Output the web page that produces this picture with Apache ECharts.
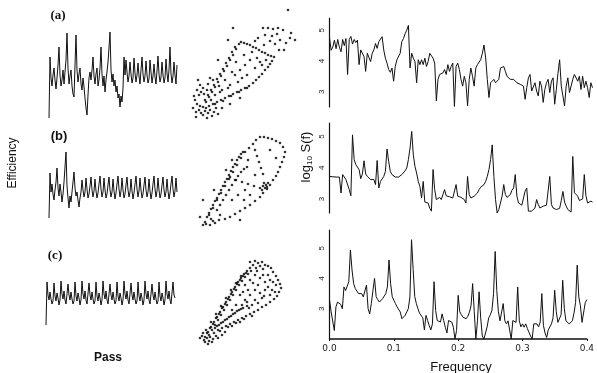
<!DOCTYPE html>
<html><head><meta charset="utf-8">
<script src="https://cdn.jsdelivr.net/npm/echarts@6/dist/echarts.min.js"></script>
<style>html,body{margin:0;padding:0;background:#fff}#c{width:597px;height:373px}</style>
</head><body><div id="c"></div>
<script>
// ---- Efficiency time series (arbitrary units), one value per pass ----
const effA = [2,63,42,34,45,52,40,31,42,55,73,45,34,40,50,36,38,60,87,52,36,44,50,34,26,23,55,85,50,38,46,52,36,30,42,33,22,12,5,25,42,48,40,50,63,44,36,46,52,34,40,52,73,46,34,44,28,40,48,58,72,88,50,38,46,34,40,28,34,22,26,13,24,18,32,63,45,60,48,38,44,58,46,37,42,62,47,38,45,57,44,36,50,63,46,38,44,59,45,37,41,60,48,37,44,56,43,36,49,64,46,38,43,58,45,37,42,61,47,38,50,73,46,37,44,58,45,36,55];
const effB = [4,49,30,38,28,22,32,40,54,34,26,38,30,20,28,40,55,70,36,24,14,26,20,30,40,50,34,26,30,22,15,24,30,42,32,25,30,44,33,24,28,36,45,32,25,31,43,31,24,29,38,46,33,25,30,44,32,24,28,37,45,32,25,30,43,31,23,29,38,46,33,25,31,44,32,24,28,37,45,32,25,30,43,31,23,29,38,46,33,25,31,44,32,24,28,37,45,32,25,30,43,31,23,29,38,46,33,25,31,44,32,24,28,37,45,32,25,30,43,31,23,29,38,46,33,25,31,44,30];
const effC = [3,46,33,28,36,29,24,27,45,32,27,35,30,23,28,47,34,29,37,28,24,26,44,33,28,36,29,24,27,46,32,27,35,30,23,28,47,34,29,37,28,24,26,45,33,28,36,29,24,27,46,32,27,35,30,23,28,47,34,29,37,28,24,26,44,33,28,36,29,24,27,46,32,27,35,30,23,28,47,34,29,37,28,24,26,45,33,28,36,29,24,27,46,32,27,35,30,23,28,47,34,29,37,28,24,26,44,33,28,36,29,24,27,46,32,27,35,30,23,28,47,34,29,37,28,24,26,46,33,30];

// ---- Return maps (E_n, E_n+1), arbitrary units ----
const mapA = [[18,13],[21,18],[24,23],[27,28],[30,33],[33,38],[36,44],[39,49],[42,54],[45,60],[48,65],[51,71],[54,76],[56,78],[20,20],[23,25],[26,30],[29,35],[32,41],[35,46],[38,51],[41,57],[44,62],[47,68],[50,73],[59,77],[62,76],[65,75],[68,73],[71,72],[74,70],[77,68],[80,67],[83,65],[86,64],[89,63],[87,59],[85,56],[83,53],[80,50],[77,46],[74,43],[71,40],[68,37],[64,34],[60,32],[56,30],[52,28],[48,26],[44,24],[40,22],[36,20],[32,18],[28,16],[24,14],[62,32],[54,28],[46,24],[38,19],[30,16],[10,20],[12,16],[8,12],[14,10],[16,7],[11,8],[18,5],[20,9],[23,7],[25,10],[27,4],[14,25],[16,28],[12,30],[19,26],[22,30],[9,24],[15,14],[21,12],[29,8],[31,12],[33,6],[26,20],[18,32],[15,35],[23,36],[30,25],[35,28],[28,40],[25,42],[34,34],[40,40],[45,35],[50,45],[55,50],[60,55],[65,60],[70,52],[75,58],[62,45],[53,38],[47,48],[43,32],[59,65],[67,68],[77,55],[81,60],[72,62],[57,42],[51,58],[37,30],[78,92],[83,92],[88,91],[93,92],[98,90],[105,82],[110,80],[101,77],[95,80],[90,76],[85,79],[80,85],[87,84],[73,82],[70,79],[79,75],[94,70],[99,70],[106,87],[92,86],[48,92],[103,110],[43,80],[33,60],[13,40],[37,12],[45,16],[55,22],[11,3],[22,2]];
const mapB = [[20,18],[24,25],[28,32],[32,40],[36,47],[40,54],[44,61],[48,68],[52,75],[56,82],[60,88],[64,92],[68,96],[71,100],[75,103],[79,103],[83,102],[87,101],[91,99],[95,97],[98,93],[100,88],[99,83],[97,78],[95,73],[93,68],[91,64],[88,60],[85,55],[82,51],[78,47],[75,43],[70,39],[65,35],[60,32],[55,29],[50,26],[45,23],[40,21],[34,20],[28,19],[22,23],[24,27],[26,31],[28,35],[30,39],[32,42],[34,46],[36,50],[38,54],[40,58],[42,61],[44,65],[46,69],[48,73],[50,76],[52,80],[54,83],[56,86],[58,88],[32,30],[35,35],[38,40],[41,45],[44,50],[47,55],[50,60],[53,64],[56,68],[59,71],[62,73],[70,90],[72,84],[74,78],[76,72],[78,66],[45,63],[51,60],[57,58],[63,56],[69,54],[75,52],[79,57],[81,55],[80,52],[82,53],[78,54],[83,57],[77,50],[18,40],[15,23],[55,20],[25,15],[21,16],[30,17],[18,15],[26,21],[35,25],[65,45],[60,50],[70,65],[53,45],[47,40],[63,80],[85,90],[91,82],[47,80],[41,70],[29,50],[59,40]];
const mapC = [[20,28],[23,33],[26,38],[29,43],[32,48],[35,53],[38,58],[41,63],[44,68],[47,73],[50,78],[53,83],[56,87],[59,91],[62,94],[65,97],[68,100],[24,30],[27,35],[30,40],[33,45],[36,50],[39,55],[42,60],[45,65],[48,70],[51,75],[54,80],[57,84],[60,88],[63,91],[66,94],[22,32],[25,37],[28,41],[31,47],[34,51],[37,57],[40,61],[43,66],[46,71],[49,76],[52,81],[55,85],[58,89],[61,92],[21,35],[26,43],[31,51],[36,59],[41,67],[46,75],[51,82],[56,89],[65,103],[70,104],[73,102],[77,103],[80,100],[83,99],[75,99],[71,97],[86,97],[78,96],[88,93],[91,89],[93,85],[95,81],[96,77],[94,73],[92,69],[89,66],[85,63],[81,60],[77,58],[73,55],[91,80],[87,75],[85,70],[69,53],[65,51],[61,49],[57,47],[53,45],[49,43],[45,41],[41,39],[37,37],[33,35],[29,32],[59,46],[51,42],[43,38],[35,34],[67,49],[55,43],[47,39],[30,37],[34,40],[38,43],[42,46],[46,49],[50,52],[54,55],[58,57],[62,59],[32,39],[36,42],[40,45],[44,48],[48,51],[52,54],[56,56],[17,29],[19,25],[22,27],[25,28],[28,26],[31,29],[15,27],[20,23],[24,24],[33,27],[37,30],[18,32],[27,23],[40,33],[23,21],[60,80],[65,85],[70,90],[75,87],[80,83],[85,85],[70,75],[75,72],[80,75],[65,70],[60,65],[70,65],[77,67],[83,78],[55,70],[63,75],[67,60],[73,80],[78,90],[62,63],[57,60],[88,83],[83,90],[68,82],[58,73],[73,62],[79,69],[51,60],[47,55],[90,73],[72,94],[64,57]];

// ---- Power spectra: frequency grid and log10 S(f) ----
const freq = [0,0.0025,0.005,0.0075,0.01,0.0125,0.015,0.0175,0.02,0.0225,0.025,0.0275,0.03,0.0325,0.035,0.0375,0.04,0.0425,0.045,0.0475,0.05,0.0525,0.055,0.0575,0.06,0.0625,0.065,0.0675,0.07,0.0725,0.075,0.0775,0.08,0.0825,0.085,0.0875,0.09,0.0925,0.095,0.0975,0.1,0.1025,0.105,0.1075,0.11,0.1125,0.115,0.1175,0.12,0.1225,0.125,0.1275,0.13,0.1325,0.135,0.1375,0.14,0.1425,0.145,0.1475,0.15,0.1525,0.155,0.1575,0.16,0.1625,0.165,0.1675,0.17,0.1725,0.175,0.1775,0.18,0.1825,0.185,0.1875,0.19,0.1925,0.195,0.1975,0.2,0.2025,0.205,0.2075,0.21,0.2125,0.215,0.2175,0.22,0.2225,0.225,0.2275,0.23,0.2325,0.235,0.2375,0.24,0.2425,0.245,0.2475,0.25,0.2525,0.255,0.2575,0.26,0.2625,0.265,0.2675,0.27,0.2725,0.275,0.2775,0.28,0.2825,0.285,0.2875,0.29,0.2925,0.295,0.2975,0.3,0.3025,0.305,0.3075,0.31,0.3125,0.315,0.3175,0.32,0.3225,0.325,0.3275,0.33,0.3325,0.335,0.3375,0.34,0.3425,0.345,0.3475,0.35,0.3525,0.355,0.3575,0.36,0.3625,0.365,0.3675,0.37,0.3725,0.375,0.3775,0.38,0.3825,0.385,0.3875,0.39,0.3925,0.395,0.3975,0.4];
const specA = [4.75,4.35,4.45,4.68,4.4,4.70,4.45,4.3,4.7,4.5,4.73,3.56,4.7,4.8,4.55,4.7,4.6,4.68,3.88,4.36,4.38,4.14,3.66,4.25,4.30,3.98,4.25,4.36,4.57,4.41,4.63,4.57,4.79,4.36,4.09,3.93,3.72,3.63,3.77,3.34,3.82,4.04,3.98,4.25,4.63,4.73,4.89,5.0,5.16,3.77,4.25,4.09,3.98,3.29,4.04,3.88,4.04,3.88,4.09,3.82,3.98,4.25,4.20,4.09,3.93,2.70,3.40,3.56,3.50,3.61,3.72,3.56,3.88,3.66,3.82,3.93,2.52,3.82,3.93,3.72,3.40,3.18,3.50,3.29,2.54,3.40,3.77,3.50,3.18,3.77,3.88,3.93,4.04,4.25,4.52,4.1,3.40,2.81,3.29,3.34,3.40,3.29,3.24,3.40,3.77,3.72,3.82,3.66,3.50,3.45,3.40,3.45,3.40,3.34,3.29,3.29,3.24,3.24,3.18,2.75,3.13,3.45,3.56,3.02,3.07,3.29,3.02,2.86,3.34,3.18,2.65,3.07,3.29,3.40,2.97,3.34,3.45,2.59,3.07,3.6,4.04,3.18,3.13,2.54,3.18,3.45,2.97,2.91,3.40,3.56,3.61,3.34,3.50,3.07,3.50,3.13,3.34,3.13,2.81,3.29,3.13];
const specB = [3.72,3.72,3.71,3.72,3.70,3.72,3.70,3.19,3.78,3.72,3.62,3.56,3.30,3.10,5.05,4.26,4.10,4.04,3.94,3.65,3.80,4.22,3.80,3.72,3.67,3.62,3.60,3.62,3.46,4.23,3.35,3.56,3.62,3.72,3.88,4.60,4.20,3.88,3.78,3.72,3.70,3.67,3.70,3.72,3.78,3.83,3.90,3.99,4.26,4.63,5.16,4.40,4.04,3.83,3.56,3.40,3.03,3.56,2.90,2.92,2.87,2.70,2.61,3.94,3.30,2.98,3.03,3.05,2.98,3.03,3.30,3.10,3.07,3.07,3.07,3.03,3.09,3.46,3.09,3.07,3.05,3.03,2.98,2.87,3.72,3.14,3.03,3.07,3.09,3.11,3.19,3.30,3.38,3.33,3.46,3.56,3.72,3.94,4.26,4.73,3.72,2.98,2.55,2.66,2.87,3.09,3.46,3.14,3.05,3.07,3.14,3.28,3.35,3.78,3.09,2.87,2.82,2.80,2.79,3.25,3.35,2.61,2.66,2.61,2.61,2.71,2.98,2.82,2.71,2.66,2.77,2.82,2.80,2.79,3.72,2.82,2.71,2.68,2.66,2.62,2.70,2.95,3.24,2.90,2.77,2.66,2.61,2.58,4.36,3.20,3.24,3.09,2.95,2.90,3.00,3.78,3.10,2.87,2.85,2.93,2.90];
const specC = [3.3,2.9,2.85,2.28,3.06,3.22,3.25,3.14,3.0,3.72,3.6,3.61,3.89,4.94,4.28,3.83,3.67,3.61,3.50,3.44,3.50,3.39,3.33,3.78,3.0,2.83,3.17,3.6,4.0,3.4,3.3,3.22,3.25,3.33,3.39,3.5,3.72,4.61,3.83,3.4,3.28,3.17,3.06,3.11,2.89,2.67,2.70,2.78,2.75,3.0,3.39,5.28,4.3,3.4,3.17,3.0,2.85,2.9,2.7,2.3,2.78,2.61,2.44,2.3,2.5,3.89,2.94,2.61,2.67,2.56,2.83,2.61,2.39,2.2,2.61,2.67,2.56,2.39,2.0,2.28,3.44,2.9,2.8,2.72,2.7,2.67,2.75,2.88,3.1,3.83,2.9,2.0,2.6,3.56,2.7,2.1,2.0,2.0,2.4,2.7,2.8,2.95,3.5,4.89,3.6,2.9,2.6,2.65,3.17,2.6,2.5,2.6,2.3,2.0,2.61,2.65,2.55,3.72,2.6,2.4,2.5,2.39,2.5,2.35,2.3,2.1,2.0,2.5,2.48,2.5,2.4,2.56,3.5,2.45,2.2,2.05,2.3,2.4,2.5,2.7,3.61,2.9,2.55,2.5,2.8,3.94,3.0,2.6,2.56,2.5,2.5,2.6,2.85,3.2,4.44,3.39,3.1,2.55,2.6,3.2,3.3];
const freqTicks = [0, 0.1, 0.2, 0.3, 0.4];

const INK = '#111';
const SANS = '"Liberation Sans", Arial, sans-serif';
const SERIF = '"Liberation Serif", "Times New Roman", serif';

const grids = [
  {left:48, top:30, width:130, height:90},
  {left:48, top:145, width:130, height:77},
  {left:45, top:270, width:130, height:58},
  {left:185, top:5, width:115, height:115},
  {left:185, top:125, width:115, height:115},
  {left:185, top:250, width:115, height:115},
  {left:329.5, top:18, width:263, height:89},
  {left:329.5, top:123, width:263, height:90},
  {left:329.5, top:230, width:263, height:109}
];
const hidden = {axisLine:{show:false}, axisTick:{show:false}, axisLabel:{show:false}, splitLine:{show:false}};
const xAxes = [], yAxes = [];
[[0,90],[0,77],[0,58]].forEach((r,i)=>{
  xAxes.push(Object.assign({type:'value', gridIndex:i, min:0, max:130}, hidden));
  yAxes.push(Object.assign({type:'value', gridIndex:i, min:r[0], max:r[1]}, hidden));
});
for (let i=3;i<6;i++){
  xAxes.push(Object.assign({type:'value', gridIndex:i, min:0, max:115}, hidden));
  yAxes.push(Object.assign({type:'value', gridIndex:i, min:0, max:115}, hidden));
}
const specRanges = [[2.5,5.4],[2.55,5.43],[2,5.6]];
specRanges.forEach((r,j)=>{
  const gi = 6+j;
  if (j<2) {
    xAxes.push(Object.assign({type:'value', gridIndex:gi, min:0, max:0.4}, hidden));
  } else {
    xAxes.push({type:'value', gridIndex:gi, min:0, max:0.4, interval:0.1,
      axisLine:{show:true, onZero:false, lineStyle:{color:INK, width:1.5}},
      axisTick:{show:true, length:2, lineStyle:{color:INK}},
      axisLabel:{show:true, margin:5, fontSize:9, color:'#222', fontFamily:'"DejaVu Sans", sans-serif',
        formatter:v=>freqTicks.some(t=>Math.abs(t-v)<1e-9)?v.toFixed(1):''},
      splitLine:{show:false}});
  }
  yAxes.push({type:'value', gridIndex:gi, min:r[0], max:r[1], splitNumber:3,
    axisLine:{show:true, onZero:false, lineStyle:{color:INK, width:1.2}},
    axisTick:{show:false},
    axisLabel:{show:true, rotate:90, margin:4, fontSize:8, color:'#222', fontFamily:SANS,
      showMinLabel:false, showMaxLabel:false,
      formatter:v=>Number.isInteger(v)?String(v):''},
    splitLine:{show:false}});
});

const series = [];
[effA,effB,effC].forEach((arr,i)=>{
  series.push({type:'line', xAxisIndex:i, yAxisIndex:i, data:arr.map((v,k)=>[k+1,v]),
    showSymbol:false, lineStyle:{color:INK, width:1}, silent:true});
});
[mapA,mapB,mapC].forEach((arr,i)=>{
  series.push({type:'scatter', xAxisIndex:3+i, yAxisIndex:3+i, data:arr,
    symbol:'circle', symbolSize:2.6, itemStyle:{color:'#000'}, silent:true});
});
[specA,specB,specC].forEach((arr,i)=>{
  series.push({type:'line', xAxisIndex:6+i, yAxisIndex:6+i, data:arr.map((v,k)=>[freq[k],v]),
    showSymbol:false, lineStyle:{color:INK, width:1}, silent:true});
});

const graphic = [
  {type:'text', x:58, y:16, style:{text:'(a)', font:'bold 13px '+SERIF, fill:INK, align:'center', verticalAlign:'middle'}},
  {type:'text', x:59, y:136, style:{text:'(b)', font:'bold 13px '+SANS, fill:INK, align:'center', verticalAlign:'middle'}},
  {type:'text', x:55, y:256, style:{text:'(c)', font:'bold 13px '+SERIF, fill:INK, align:'center', verticalAlign:'middle'}},
  {type:'text', x:13, y:163, rotation:Math.PI/2, style:{text:'Efficiency', font:'12px '+SANS, fill:INK, align:'center', verticalAlign:'middle'}},
  {type:'text', x:108, y:358, style:{text:'Pass', font:'bold 12px '+SANS, fill:INK, align:'center', verticalAlign:'middle'}},
  {type:'text', x:461, y:367, style:{text:'Frequency', font:'13px '+SANS, fill:INK, align:'center', verticalAlign:'middle'}},
  {type:'text', x:306, y:157, rotation:Math.PI/2, style:{text:'{a|log}{s|10}{a| S(f)}', align:'center', verticalAlign:'middle',
     rich:{a:{fontSize:13, fontFamily:SANS, fill:INK, color:INK}, s:{fontSize:8, fontFamily:SANS, color:INK, fill:INK, padding:[8,0,0,0]}}}}
];

const chart = echarts.init(document.getElementById('c'), null, {renderer:'canvas'});
chart.setOption({animation:false, backgroundColor:'#fff', grid:grids, xAxis:xAxes, yAxis:yAxes, series, graphic});
</script></body></html>
